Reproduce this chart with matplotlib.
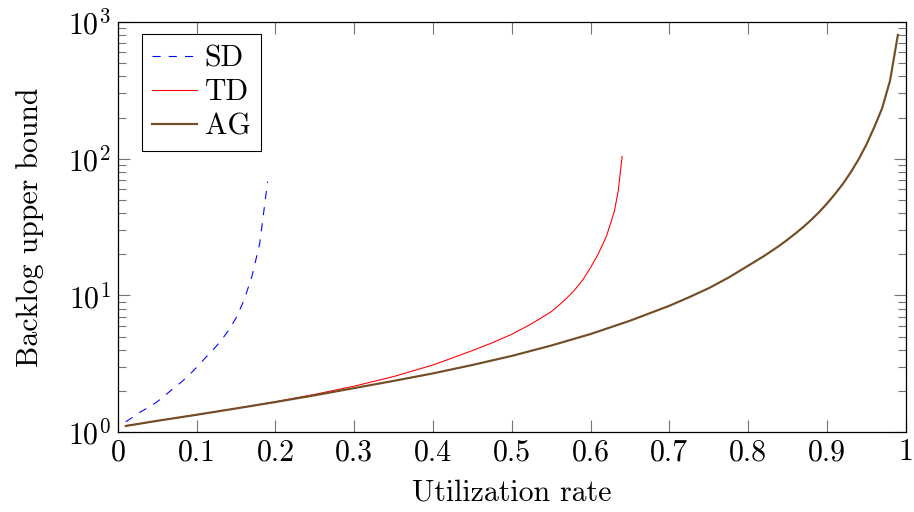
import numpy as np
import matplotlib
matplotlib.use("Agg")
import matplotlib.pyplot as plt

plt.rcParams["font.family"] = "cmr10"
plt.rcParams["mathtext.fontset"] = "cm"
plt.rcParams["axes.formatter.use_mathtext"] = True
plt.rcParams["font.size"] = 21.5

# Values
u_sd = [0.01, 0.02, 0.03, 0.04, 0.05, 0.06, 0.07, 0.08, 0.09, 0.10,
        0.11, 0.12, 0.13, 0.14, 0.15, 0.16, 0.17, 0.18, 0.19]
sd = [1.19, 1.30, 1.42, 1.53, 1.67, 1.86, 2.08, 2.31, 2.60, 2.98,
      3.45, 3.95, 4.60, 5.50, 6.85, 9.2, 13.7, 24.0, 68.0]

u_td = [0.01, 0.05, 0.10, 0.15, 0.20, 0.25, 0.30, 0.35, 0.40, 0.45,
        0.475, 0.50, 0.525, 0.55, 0.56, 0.57, 0.58, 0.59, 0.60,
        0.61, 0.62, 0.63, 0.635, 0.64]
td = [1.11, 1.21, 1.34, 1.49, 1.67, 1.89, 2.17, 2.55, 3.10, 3.95,
      4.50, 5.2, 6.2, 7.6, 8.5, 9.6, 11.0, 13.0, 16.0,
      20.3, 27.0, 41.0, 58.0, 104.0]

u_ag = [0.01, 0.05, 0.10, 0.15, 0.20, 0.25, 0.30, 0.35, 0.40, 0.45,
        0.50, 0.55, 0.60, 0.65, 0.70, 0.725, 0.75, 0.775, 0.80, 0.81,
        0.82, 0.83, 0.84, 0.85, 0.86, 0.87, 0.88, 0.89, 0.90, 0.91,
        0.92, 0.93, 0.94, 0.95, 0.96, 0.97, 0.98, 0.99]
ag = [1.11, 1.21, 1.34, 1.49, 1.66, 1.86, 2.10, 2.37, 2.69, 3.10,
      3.61, 4.30, 5.22, 6.53, 8.4, 9.7, 11.3, 13.5, 16.5, 17.9,
      19.4, 21.2, 23.2, 25.6, 28.4, 31.7, 35.7, 40.7, 47.0, 55.0,
      65.3, 79.3, 98.6, 126.8, 170.0, 234.0, 372.0, 805.0]

x_ticks = [0, 0.1, 0.2, 0.3, 0.4, 0.5, 0.6, 0.7, 0.8, 0.9, 1]
x_tick_labels = ["0", "0.1", "0.2", "0.3", "0.4", "0.5", "0.6", "0.7", "0.8", "0.9", "1"]

fig = plt.figure(figsize=(9.14, 5.12), dpi=100)
ax = fig.add_axes([0.129, 0.156, 0.862, 0.801])

ax.plot(u_sd, sd, color="blue", lw=0.78, ls=(0, (7.5, 7.5)), label="SD")
ax.plot(u_td, td, color="red", lw=0.78, label="TD")
ax.plot(u_ag, ag, color="#734d26", lw=1.55, label="AG")

ax.set_yscale("log")
ax.set_xlim(0, 1)
ax.set_ylim(1, 1000)
ax.set_xticks(x_ticks)
ax.set_xticklabels(x_tick_labels)

ax.tick_params(which="both", direction="in", top=True, right=True,
               color="0.45", width=0.78)
ax.tick_params(which="major", length=8.3, pad=5)
ax.tick_params(which="minor", length=5.5)
for s in ax.spines.values():
    s.set_linewidth(0.9)

ax.set_xlabel("Utilization rate", labelpad=9)
ax.set_ylabel("Backlog upper bound", labelpad=17)

leg = ax.legend(loc="upper left", bbox_to_anchor=(0.03, 0.97), borderaxespad=0,
                fancybox=False, framealpha=1, edgecolor="black",
                handlelength=1.5, handletextpad=0.27, labelspacing=0.22,
                borderpad=0.35)
leg.get_frame().set_linewidth(0.78)

fig.savefig("out.png", dpi=100)
